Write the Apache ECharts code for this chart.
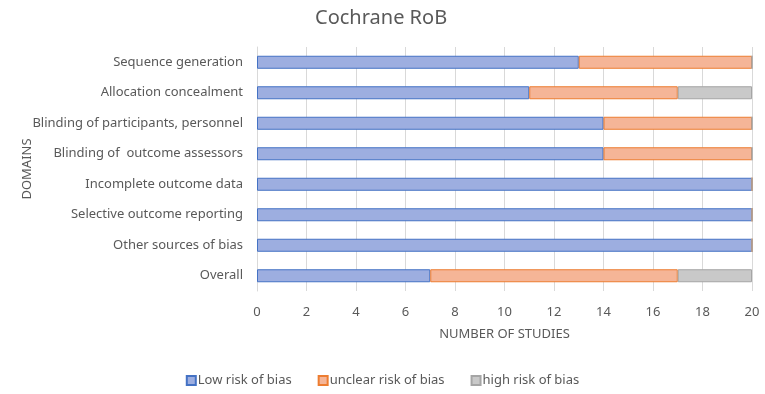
<!DOCTYPE html>
<html>
<head>
<meta charset="utf-8">
<script src="https://cdn.jsdelivr.net/npm/echarts@6/dist/echarts.min.js"></script>
<style>
  html, body { margin: 0; padding: 0; background: #fff; }
  #bar { width: 765px; height: 394px; }
</style>
</head>
<body>
<div id="bar"></div>
<script>
// domains, top to bottom
var domains = ['Sequence generation', 'Allocation concealment', 'Blinding of participants, personnel',
    'Blinding of  outcome assessors', 'Incomplete outcome data', 'Selective outcome reporting',
    'Other sources of bias', 'Overall'];
var lowRisk     = [13, 11, 14, 14, 20, 20, 20, 7];
var unclearRisk = [7, 6, 6, 6, 0, 0, 0, 10];
var highRisk    = [0, 3, 0, 0, 0, 0, 0, 3];
var seriesNames = ['Low risk of bias', 'unclear risk of bias', 'high risk of bias'];

var font = 'Noto Sans';
var txt = '#595959';

function mkSeries(name, data, fill, border) {
    return {
        name: name,
        type: 'bar',
        stack: 'rob',
        barWidth: 13,
        data: data,
        itemStyle: { color: fill, borderColor: border, borderWidth: 1 }
    };
}

var mybar = echarts.init(document.getElementById('bar'));
mybar.setOption({
    animation: false,
    textStyle: { fontFamily: font },
    title: {
        text: 'Cochrane RoB',
        left: 310,
        top: 3,
        textStyle: { fontFamily: font, fontSize: 20, fontWeight: 'normal', color: txt }
    },
    legend: {
        data: seriesNames,
        bottom: 2,
        left: 'center',
        icon: 'rect',
        itemWidth: 9,
        itemHeight: 9,
        itemGap: 26,
        textStyle: { fontFamily: font, fontSize: 13, color: txt, padding: [0, 0, 0, -3] }
    },
    grid: { left: 257, right: 13, top: 47, bottom: 103, containLabel: false },
    xAxis: {
        type: 'value',
        min: 0,
        max: 20,
        interval: 2,
        name: 'NUMBER OF STUDIES',
        nameLocation: 'middle',
        nameGap: 37,
        nameTextStyle: { fontFamily: font, fontSize: 13, color: txt },
        axisLine: { show: false },
        axisTick: { show: false },
        axisLabel: { fontFamily: font, fontSize: 13, color: txt, margin: 15 },
        splitLine: { lineStyle: { color: '#d9d9d9' } }
    },
    yAxis: {
        type: 'category',
        data: domains,
        inverse: true,
        name: 'DOMAINS',
        nameLocation: 'middle',
        nameGap: 223,
        nameMoveOverlap: false,
        nameTextStyle: { fontFamily: font, fontSize: 13, color: txt },
        axisLine: { show: true, lineStyle: { color: '#d9d9d9' } },
        axisTick: { show: false },
        axisLabel: { fontFamily: font, fontSize: 13, color: txt, margin: 14 }
    },
    series: [
        mkSeries(seriesNames[0], lowRisk, '#9daee0', '#4472c4'),
        mkSeries(seriesNames[1], unclearRisk, '#f5b597', '#ed7d31'),
        mkSeries(seriesNames[2], highRisk, '#c9c9c9', '#a5a5a5')
    ]
});
</script>
</body>
</html>
